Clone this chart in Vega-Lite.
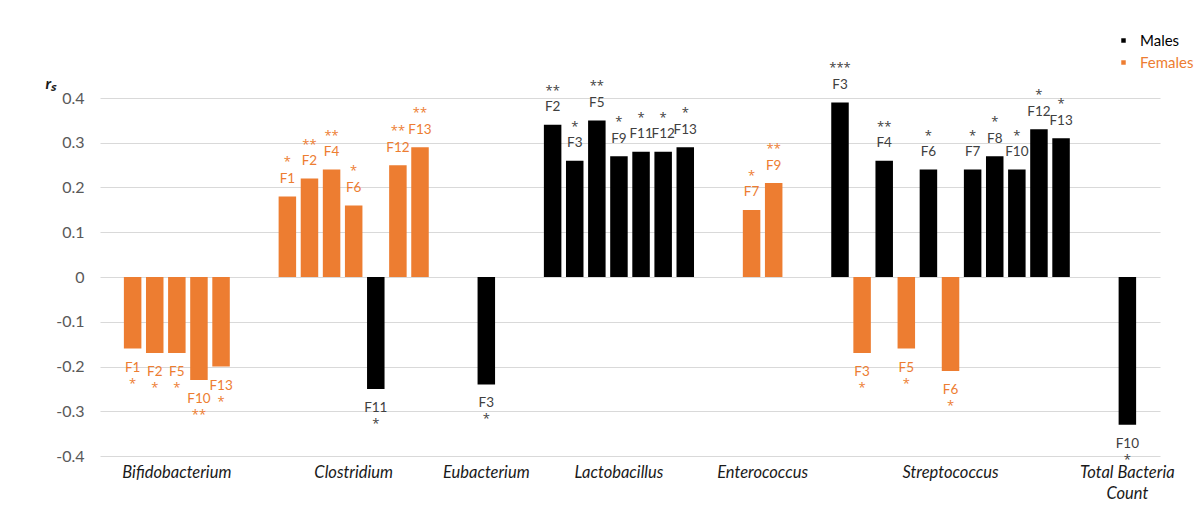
{
  "$schema": "https://vega.github.io/schema/vega-lite/v6.json",
  "width": 1060,
  "height": 358,
  "autosize": {"type": "none"},
  "padding": {"left": 100, "top": 98, "right": 42, "bottom": 50},
  "background": "white",
  "config": {"view": {"stroke": null}, "font": "Lato"},
  "datasets": {
    "bars": [
      {"cat": "Bifidobacterium", "slot": 0, "sex": "Females", "label": "F1", "sig": "*", "r": -0.16},
      {"cat": "Bifidobacterium", "slot": 1, "sex": "Females", "label": "F2", "sig": "*", "r": -0.17},
      {"cat": "Bifidobacterium", "slot": 2, "sex": "Females", "label": "F5", "sig": "*", "r": -0.17},
      {"cat": "Bifidobacterium", "slot": 3, "sex": "Females", "label": "F10", "sig": "**", "r": -0.23},
      {"cat": "Bifidobacterium", "slot": 4, "sex": "Females", "label": "F13", "sig": "*", "r": -0.20},
      {"cat": "Clostridium", "slot": 7, "sex": "Females", "label": "F1", "sig": "*", "r": 0.18},
      {"cat": "Clostridium", "slot": 8, "sex": "Females", "label": "F2", "sig": "**", "r": 0.22},
      {"cat": "Clostridium", "slot": 9, "sex": "Females", "label": "F4", "sig": "**", "r": 0.24},
      {"cat": "Clostridium", "slot": 10, "sex": "Females", "label": "F6", "sig": "*", "r": 0.16},
      {"cat": "Clostridium", "slot": 11, "sex": "Males", "label": "F11", "sig": "*", "r": -0.25},
      {"cat": "Clostridium", "slot": 12, "sex": "Females", "label": "F12", "sig": "**", "r": 0.25},
      {"cat": "Clostridium", "slot": 13, "sex": "Females", "label": "F13", "sig": "**", "r": 0.29},
      {"cat": "Eubacterium", "slot": 16, "sex": "Males", "label": "F3", "sig": "*", "r": -0.24},
      {"cat": "Lactobacillus", "slot": 19, "sex": "Males", "label": "F2", "sig": "**", "r": 0.34},
      {"cat": "Lactobacillus", "slot": 20, "sex": "Males", "label": "F3", "sig": "*", "r": 0.26},
      {"cat": "Lactobacillus", "slot": 21, "sex": "Males", "label": "F5", "sig": "**", "r": 0.35},
      {"cat": "Lactobacillus", "slot": 22, "sex": "Males", "label": "F9", "sig": "*", "r": 0.27},
      {"cat": "Lactobacillus", "slot": 23, "sex": "Males", "label": "F11", "sig": "*", "r": 0.28},
      {"cat": "Lactobacillus", "slot": 24, "sex": "Males", "label": "F12", "sig": "*", "r": 0.28},
      {"cat": "Lactobacillus", "slot": 25, "sex": "Males", "label": "F13", "sig": "*", "r": 0.29},
      {"cat": "Enterococcus", "slot": 28, "sex": "Females", "label": "F7", "sig": "*", "r": 0.15},
      {"cat": "Enterococcus", "slot": 29, "sex": "Females", "label": "F9", "sig": "**", "r": 0.21},
      {"cat": "Streptococcus", "slot": 32, "sex": "Males", "label": "F3", "sig": "***", "r": 0.39},
      {"cat": "Streptococcus", "slot": 33, "sex": "Females", "label": "F3", "sig": "*", "r": -0.17},
      {"cat": "Streptococcus", "slot": 34, "sex": "Males", "label": "F4", "sig": "**", "r": 0.26},
      {"cat": "Streptococcus", "slot": 35, "sex": "Females", "label": "F5", "sig": "*", "r": -0.16},
      {"cat": "Streptococcus", "slot": 36, "sex": "Males", "label": "F6", "sig": "*", "r": 0.24},
      {"cat": "Streptococcus", "slot": 37, "sex": "Females", "label": "F6", "sig": "*", "r": -0.21},
      {"cat": "Streptococcus", "slot": 38, "sex": "Males", "label": "F7", "sig": "*", "r": 0.24},
      {"cat": "Streptococcus", "slot": 39, "sex": "Males", "label": "F8", "sig": "*", "r": 0.27},
      {"cat": "Streptococcus", "slot": 40, "sex": "Males", "label": "F10", "sig": "*", "r": 0.24},
      {"cat": "Streptococcus", "slot": 41, "sex": "Males", "label": "F12", "sig": "*", "r": 0.33},
      {"cat": "Streptococcus", "slot": 42, "sex": "Males", "label": "F13", "sig": "*", "r": 0.31},
      {"cat": "Total Bacteria Count", "slot": 45, "sex": "Males", "label": "F10", "sig": "*", "r": -0.33}
    ],
    "cats": [
      {"name": "Bifidobacterium", "slot": 2},
      {"name": "Clostridium", "slot": 10},
      {"name": "Eubacterium", "slot": 16},
      {"name": "Lactobacillus", "slot": 22},
      {"name": "Enterococcus", "slot": 28.5},
      {"name": "Streptococcus", "slot": 37},
      {"name": "Total Bacteria|Count", "slot": 45}
    ]
  },
  "data": {"name": "bars"},
  "layer": [
    {
      "mark": {"type": "bar", "width": 17.5},
      "encoding": {
        "x": {"field": "slot", "type": "quantitative", "scale": {"domain": [-1.25, 46.25], "nice": false, "zero": false}, "axis": null},
        "y": {"field": "r", "type": "quantitative", "scale": {"domain": [-0.4, 0.4], "nice": false},
          "axis": {
            "values": [-0.4, -0.3, -0.2, -0.1, 0, 0.1, 0.2, 0.3, 0.4],
            "format": ".1~f",
            "labelExpr": "replace(datum.label, '\u2212', '-')",
            "grid": true, "gridColor": "#d9d9d9", "gridWidth": 1,
            "domain": false, "ticks": false,
            "labelFont": "Lato", "labelFontSize": 16, "labelColor": "#595959", "labelPadding": 16,
            "title": "r\u209b", "titleAngle": 0, "titleX": -55, "titleY": -15, "titleAlign": "left", "titleBaseline": "middle",
            "titleFont": "Lato", "titleFontSize": 16, "titleFontStyle": "italic", "titleFontWeight": "bold", "titleColor": "#1a1a1a"
          }
        },
        "color": {"field": "sex", "type": "nominal",
          "scale": {"domain": ["Males", "Females"], "range": ["#000000", "#ED7D31"]},
          "legend": {
            "title": null, "orient": "none", "legendX": 1016, "legendY": -65,
            "symbolType": "square", "symbolSize": 20, "symbolStrokeWidth": 0,
            "labelFont": "Lato", "labelFontSize": 15, "labelOffset": 9, "rowPadding": 6, "padding": 0,
            "labelColor": {"expr": "datum.value === 'Females' ? '#ED7D31' : '#000000'"}
          }
        }
      }
    },
    {
      "transform": [{"filter": "datum.r > 0"}],
      "mark": {"type": "text", "baseline": "middle", "align": "center", "dy": -17.5, "fontSize": 13.5, "font": "Lato"},
      "encoding": {
        "x": {"field": "slot", "type": "quantitative"},
        "y": {"field": "r", "type": "quantitative"},
        "text": {"field": "label"},
        "color": {"condition": {"test": "datum.sex === 'Females'", "value": "#ED7D31"}, "value": "#404040"}
      }
    },
    {
      "transform": [{"filter": "datum.r > 0"}],
      "mark": {"type": "text", "baseline": "middle", "align": "center", "dy": -34, "fontSize": 13, "font": "Open Sans"},
      "encoding": {
        "x": {"field": "slot", "type": "quantitative"},
        "y": {"field": "r", "type": "quantitative"},
        "text": {"field": "sig"},
        "color": {"condition": {"test": "datum.sex === 'Females'", "value": "#ED7D31"}, "value": "#404040"}
      }
    },
    {
      "transform": [{"filter": "datum.r < 0"}],
      "mark": {"type": "text", "baseline": "middle", "align": "center", "dy": 19, "fontSize": 13.5, "font": "Lato"},
      "encoding": {
        "x": {"field": "slot", "type": "quantitative"},
        "y": {"field": "r", "type": "quantitative"},
        "text": {"field": "label"},
        "color": {"condition": {"test": "datum.sex === 'Females'", "value": "#ED7D31"}, "value": "#404040"}
      }
    },
    {
      "transform": [{"filter": "datum.r < 0"}],
      "mark": {"type": "text", "baseline": "middle", "align": "center", "dy": 35, "fontSize": 13, "font": "Open Sans"},
      "encoding": {
        "x": {"field": "slot", "type": "quantitative"},
        "y": {"field": "r", "type": "quantitative"},
        "text": {"field": "sig"},
        "color": {"condition": {"test": "datum.sex === 'Females'", "value": "#ED7D31"}, "value": "#404040"}
      }
    },
    {
      "data": {"name": "cats"},
      "mark": {"type": "text", "baseline": "alphabetic", "align": "center", "dy": 21.5, "fontSize": 16.5, "fontStyle": "italic", "font": "Lato", "color": "#1a1a1a", "lineBreak": "|", "lineHeight": 21},
      "encoding": {
        "x": {"field": "slot", "type": "quantitative"},
        "y": {"datum": -0.4, "type": "quantitative"},
        "text": {"field": "name"}
      }
    }
  ]
}
